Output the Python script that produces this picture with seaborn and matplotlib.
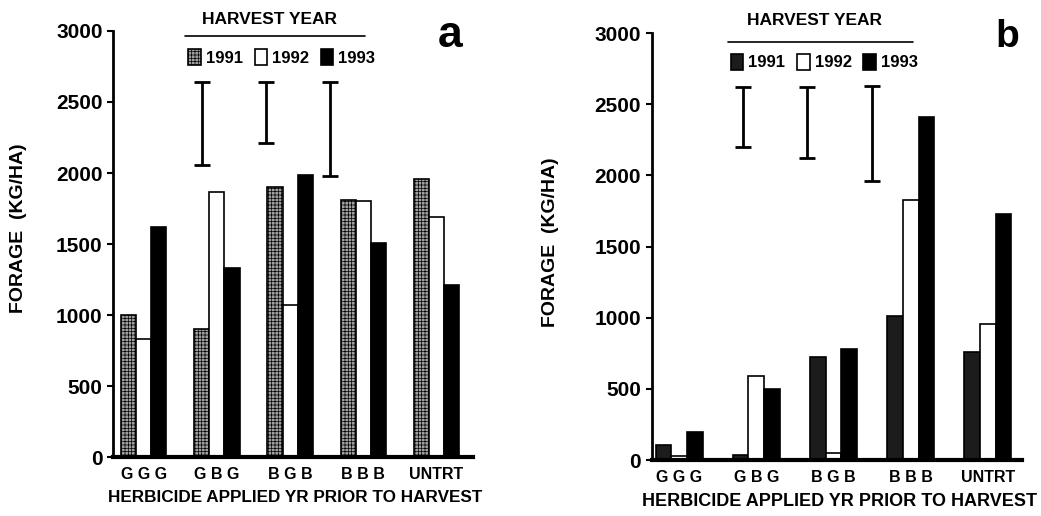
import numpy as np
import pandas as pd
import seaborn as sns
import matplotlib.pyplot as plt
from matplotlib.patches import Patch
from matplotlib.lines import Line2D

# --- data (kg/ha) ---
treatments = ["G G G", "G B G", "B G B", "B B B", "UNTRT"]
years = ["1991", "1992", "1993"]

forage_a_1991 = [1000, 900, 1900, 1810, 1955]
forage_a_1992 = [830, 1870, 1070, 1800, 1690]
forage_a_1993 = [1620, 1330, 1985, 1505, 1210]

forage_b_1991 = [105, 35, 725, 1010, 760]
forage_b_1992 = [25, 590, 50, 1830, 955]
forage_b_1993 = [195, 500, 780, 2410, 1730]

# LSD bars (x in category units, low/high in kg/ha)
lsd_a_x = [0.79, 1.67, 2.55]
lsd_a_low = [2055, 2210, 1980]
lsd_a_high = [2640, 2640, 2640]

lsd_b_x = [0.83, 1.65, 2.5]
lsd_b_low = [2200, 2120, 1960]
lsd_b_high = [2620, 2620, 2630]


def long_frame(v1, v2, v3):
    rows = []
    for yr, vals in zip(years, [v1, v2, v3]):
        for t, v in zip(treatments, vals):
            rows.append({"treatment": t, "year": yr, "forage": v})
    return pd.DataFrame(rows)


sns.set_theme(style="ticks")
plt.rcParams["font.family"] = ["Liberation Sans", "DejaVu Sans"]
plt.rcParams["font.weight"] = "bold"
plt.rcParams["hatch.linewidth"] = 0.5
for key in ["text.color", "axes.labelcolor", "xtick.color", "ytick.color", "axes.edgecolor"]:
    plt.rcParams[key] = "black"

fig = plt.figure(figsize=(10.41, 5.16), dpi=100)
ax_a = fig.add_axes([0.1085, 0.114, 0.346, 0.826])
ax_b = fig.add_axes([0.626, 0.1085, 0.356, 0.8275])


def draw_panel(ax, df, styles, lsd_x, lsd_low, lsd_high, letter, letter_xy, letter_size,
               xlim, title_x, title_y, legend_x, entries_y, line_y, xlab_size, ylab_xy):
    sns.barplot(data=df, x="treatment", y="forage", hue="year", order=treatments,
                hue_order=years, width=0.62, gap=0, ax=ax, legend=False, errorbar=None)
    for cont, (fc, hatch) in zip(ax.containers, styles):
        for bar in cont:
            bar.set_facecolor(fc)
            bar.set_edgecolor("black")
            bar.set_linewidth(1.2)
            if hatch:
                bar.set_hatch(hatch)

    low = np.array(lsd_low)
    high = np.array(lsd_high)
    ax.errorbar(lsd_x, (low + high) / 2, yerr=(high - low) / 2, fmt="none",
                ecolor="black", elinewidth=2, capsize=5.5, capthick=2)

    ax.set_ylim(0, 3000)
    ax.set_xlim(*xlim)
    ax.set_yticks(range(0, 3001, 500))
    ax.tick_params(axis="y", labelsize=15, width=1.5, length=4)
    ax.tick_params(axis="x", labelsize=11.5, length=0, pad=7)
    for lab in ax.get_yticklabels() + ax.get_xticklabels():
        lab.set_fontweight("bold")
    sns.despine(ax=ax)
    ax.spines["left"].set_linewidth(2)
    ax.spines["bottom"].set_linewidth(3)

    ax.set_xlabel("HERBICIDE APPLIED YR PRIOR TO HARVEST", fontsize=xlab_size, fontweight="bold")
    ax.xaxis.set_label_coords(0.507, -0.077)
    ax.set_ylabel("FORAGE  (KG/HA)", fontsize=14, fontweight="bold")
    ax.yaxis.set_label_coords(*ylab_xy)

    handles = [Patch(facecolor=fc, edgecolor="black", hatch=h, linewidth=1.2)
               for fc, h in styles]
    ax.legend(handles, years, loc="center", bbox_to_anchor=(legend_x, entries_y),
              ncol=3, frameon=False, handlelength=0.75, handleheight=1.1,
              handletextpad=0.3, columnspacing=0.7,
              prop={"size": 12, "weight": "bold"})
    ax.text(title_x, title_y, "HARVEST YEAR", transform=ax.transAxes, ha="center",
            va="center", fontsize=12.5, fontweight="bold", clip_on=False)
    ax.add_line(Line2D([title_x - 0.235, title_x + 0.265], [line_y, line_y],
                       transform=ax.transAxes, color="black", lw=1.2, clip_on=False))
    ax.text(*letter_xy, letter, transform=ax.transAxes, ha="center", va="center",
            fontsize=letter_size, fontweight="bold", clip_on=False)


draw_panel(ax_a, long_frame(forage_a_1991, forage_a_1992, forage_a_1993),
           [("#a0a0a0", "+++++"), ("white", None), ("black", None)],
           lsd_a_x, lsd_a_low, lsd_a_high, "a", (0.936, 0.99), 32, (-0.42, 4.5),
           0.436, 1.026, 0.469, 0.937, 0.988, 12.3, (-0.24, 0.538))
draw_panel(ax_b, long_frame(forage_b_1991, forage_b_1992, forage_b_1993),
           [("#1c1c1c", None), ("white", None), ("black", None)],
           lsd_b_x, lsd_b_low, lsd_b_high, "b", (0.96, 0.99), 28, (-0.36, 4.45),
           0.44, 1.03, 0.466, 0.932, 0.979, 13, (-0.25, 0.51))

fig.savefig("out.png", dpi=100)
